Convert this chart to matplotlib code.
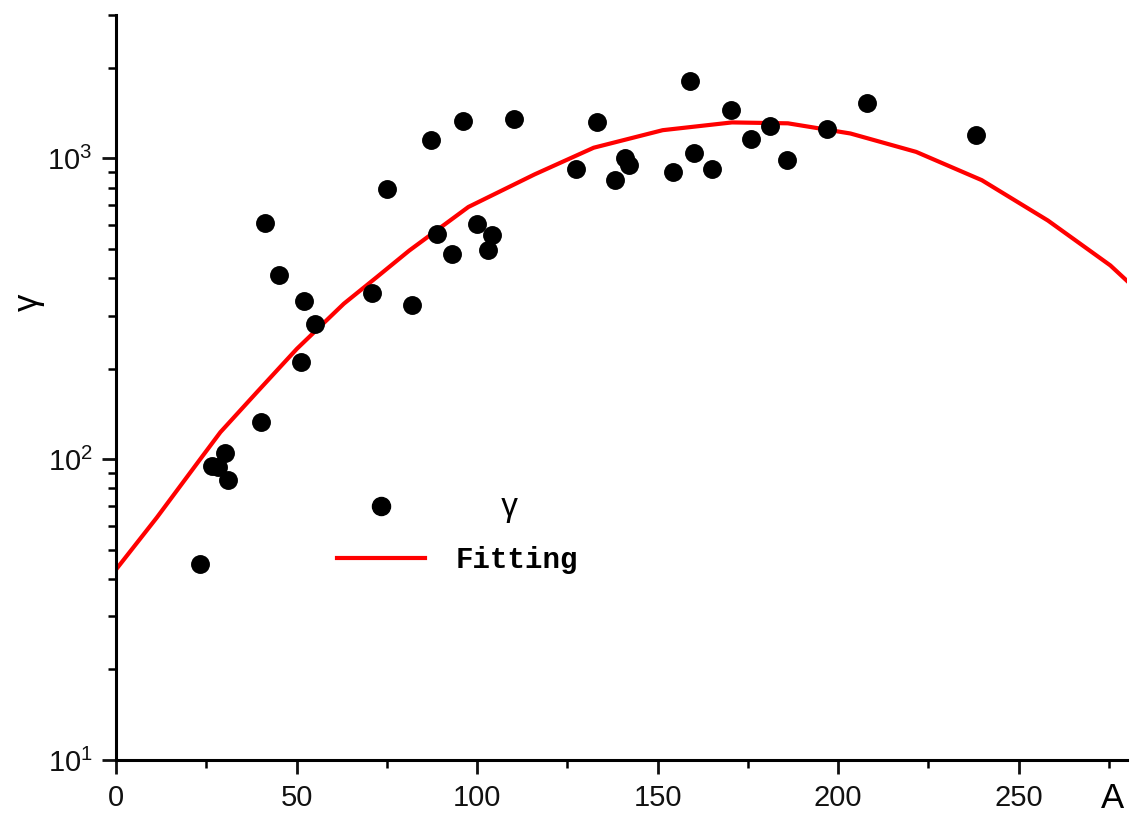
import matplotlib.pyplot as plt
from matplotlib.lines import Line2D
from matplotlib.ticker import MultipleLocator, LogLocator, NullFormatter

plt.rcParams['font.family'] = ['Liberation Sans', 'DejaVu Sans']
plt.rcParams['mathtext.fontset'] = 'custom'
plt.rcParams['mathtext.rm'] = 'Liberation Sans'
plt.rcParams['mathtext.default'] = 'regular'

# measured points
A = [23.3, 26.6, 28.3, 30.2, 31.1, 40.1, 41.3, 45.0, 51.1, 52.0, 55.0,
     70.9, 75.1, 82.0, 87.1, 89.0, 93.1, 96.1, 100.1, 103.0, 104.2, 110.2,
     127.4, 133.2, 138.2, 141.0, 142.2, 154.2, 159.1, 160.2, 165.1, 170.2,
     175.9, 181.2, 185.9, 197.0, 208.1, 238.1]
gamma = [45, 95, 94, 105, 85, 133, 612, 411, 211, 337, 282,
         357, 794, 326, 1151, 562, 482, 1331, 607, 495, 558, 1352,
         926, 1318, 847, 1005, 955, 903, 1810, 1040, 921, 1448,
         1159, 1286, 987, 1250, 1525, 1196]

# fitted curve
fit_A = [0, 11.3, 23.3, 28.9, 39, 50.1, 63.1, 72.3, 81.2, 97.6, 115.9,
         132.3, 151.4, 170.6, 186.1, 203.4, 221.6, 239.8, 258.1, 275.4, 280]
fit_gamma = [43, 64, 100, 123, 167, 233, 329, 404, 494, 690, 885,
             1086, 1242, 1318, 1309, 1211, 1052, 847, 622, 441, 392]

fig = plt.figure(figsize=(11.3, 8.15), dpi=100)
ax = fig.add_axes([0.1027, 0.0675, 0.8946, 0.9141])

ax.plot(fit_A, fit_gamma, color='red', lw=3.0, zorder=2)
ax.scatter(A, gamma, s=185, color='black', zorder=3, linewidths=0)

ax.set_yscale('log')
ax.set_xlim(0, 280)
ax.set_ylim(10, 3000)

ax.xaxis.set_major_locator(MultipleLocator(50))
ax.xaxis.set_minor_locator(MultipleLocator(25))
ax.yaxis.set_major_locator(LogLocator(base=10, numticks=10))
ax.yaxis.set_minor_locator(LogLocator(base=10, subs=range(2, 10), numticks=10))
ax.yaxis.set_minor_formatter(NullFormatter())

for s in ['top', 'right']:
    ax.spines[s].set_visible(False)
for s in ['left', 'bottom']:
    ax.spines[s].set_linewidth(2.2)

ax.tick_params(which='major', direction='out', length=10, width=2.0,
               labelsize=21, pad=7, colors='#111111')
ax.tick_params(which='minor', direction='out', length=5.5, width=1.8)

ax.set_xlabel('A', fontsize=25)
ax.xaxis.set_label_coords(0.986, -0.052)
ax.xaxis.label.set_va('center')
ax.set_ylabel('γ', fontsize=25)
ax.yaxis.set_label_coords(-0.087, 0.615)
ax.yaxis.label.set_va('center')

handles = [Line2D([], [], ls='none', marker='o', ms=13, color='black'),
           Line2D([], [], color='red', lw=3.0)]
leg = ax.legend(handles, ['     γ', 'Fitting'], frameon=False,
                loc='center left', bbox_to_anchor=(337 / 1130, 1 - 533 / 815),
                bbox_transform=fig.transFigure, borderpad=0, borderaxespad=0,
                handlelength=3.0, handletextpad=1.05, labelspacing=0.8,
                prop={'family': 'Liberation Mono', 'size': 21, 'weight': 'bold'})
leg.get_texts()[0].set_fontfamily('Liberation Sans')
leg.get_texts()[0].set_fontweight('normal')
leg.get_texts()[0].set_fontsize(24)

plt.savefig('out.png', dpi=100)
